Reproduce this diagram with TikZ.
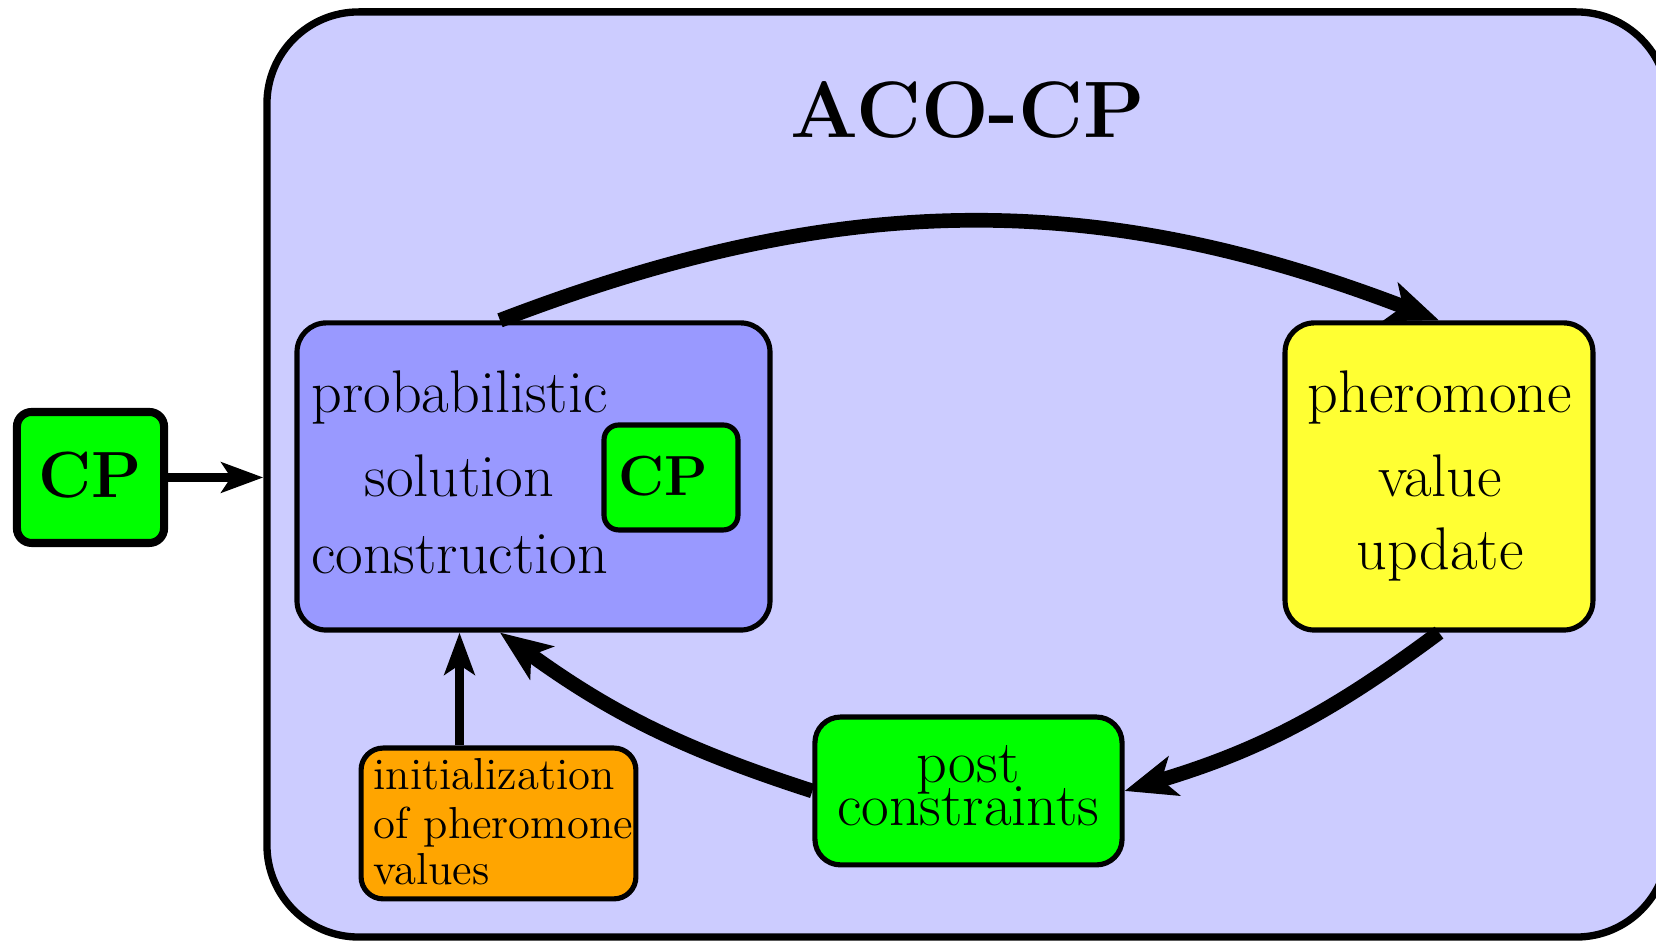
\documentclass[tikz,border=0pt]{standalone}
\usetikzlibrary{arrows.meta,calc}
\definecolor{panelfill}{HTML}{CCCCFF}
\definecolor{constructfill}{HTML}{9999FF}
\definecolor{updatefill}{HTML}{FFFF33}
\definecolor{cpfill}{HTML}{00FF00}
\definecolor{initfill}{HTML}{FFA500}
\begin{document}
\begin{tikzpicture}[x=0.2725pt,y=0.2725pt,
  box/.style={draw,rounded corners=#1,inner sep=0pt,line width=1.4pt},
  box/.default=8pt,
  txt/.style={inner sep=0pt,anchor=base,font=\fontsize{16.4}{19}\selectfont},
  smalltxt/.style={inner sep=0pt,anchor=base west,font=\fontsize{12.2}{14}\selectfont},
  cptxt/.style={inner sep=0pt,anchor=base,font=\fontsize{#1}{18}\selectfont\bfseries},
  thinarrow/.style={line width=2.45pt,-{Stealth[length=11.4pt,width=8.2pt,inset=2.6pt]}},
  loop/.style={line width=4pt,-{Stealth[length=14pt,width=11pt,inset=3.5pt]}}]
\fill[white] (0,0) rectangle (1656,943);
\useasboundingbox (0,0) rectangle (1656,943);

% outer frame of the algorithm
\node[draw,fill=panelfill,rounded corners=25pt,line width=2pt,inner sep=0pt,
      minimum width=381.8pt,minimum height=252.1pt] (aco) at (967.5,468.5) {};
\node[inner sep=0pt,anchor=base,font=\fontsize{21.8}{25}\selectfont\bfseries] (title) at (968,805) {ACO-CP};

% external CP solver
\node[draw,fill=cpfill,rounded corners=4pt,line width=2.2pt,inner sep=0pt,
      minimum width=40.1pt,minimum height=35.7pt] (cpout) at (90.5,465.5) {};
\node[cptxt=17.8] (cpoutlabel) at (90,445) {CP};

% solution construction
\node[box,fill=constructfill,minimum width=128.9pt,minimum height=83.7pt] (prob) at (533.5,466.5) {};
\node[txt] (p1) at (459.5,530) {probabilistic};
\node[txt] (p2) at (459.5,446) {solution};
\node[txt] (p3) at (459.5,369) {construction};
\node[box=4pt,fill=cpfill,minimum width=36.5pt,minimum height=28.6pt] (cpin) at (671,465.5) {};
\node[cptxt=15.4] (cpinlabel) at (663,447) {CP};

% pheromone update
\node[box,fill=updatefill,minimum width=83.9pt,minimum height=83.7pt] (pher) at (1439,466.5) {};
\node[txt] (u1) at (1440,530) {pheromone};
\node[txt] (u2) at (1440,446) {value};
\node[txt] (u3) at (1440,373) {update};

% post constraints
\node[box=7pt,fill=cpfill,minimum width=83.7pt,minimum height=40.3pt] (post) at (968.5,152) {};
\node[inner sep=0pt,anchor=base,align=center,font=\fontsize{16.4}{12.6}\selectfont] (c1) at (968,117) {post\\[-2.8pt]constraints};

% initialization
\node[box=6pt,fill=initfill,minimum width=74.9pt,minimum height=41.1pt] (init) at (498.5,119.5) {};
\node[smalltxt] (i1) at (373,153) {initialization};
\node[smalltxt] (i2) at (373,104) {of pheromone};
\node[smalltxt] (i3) at (373,58) {values};

% attachment points on the construction box
\coordinate (probN) at ([xshift=-9.13pt]prob.north);
\coordinate (probS) at ([xshift=-9.13pt]prob.south);

% connectors
\draw[thinarrow] (cpout.east) -- (cpout.east -| aco.west);
\draw[thinarrow] (init.north -| p2) -- (prob.south -| p2);
\draw[loop] (probN) to[bend left=21] (pher.north);
\draw[loop] (pher.south) to[bend left=10] (post.east);
\draw[loop] (post.west) to[bend left=9] (probS);
\end{tikzpicture}
\end{document}
